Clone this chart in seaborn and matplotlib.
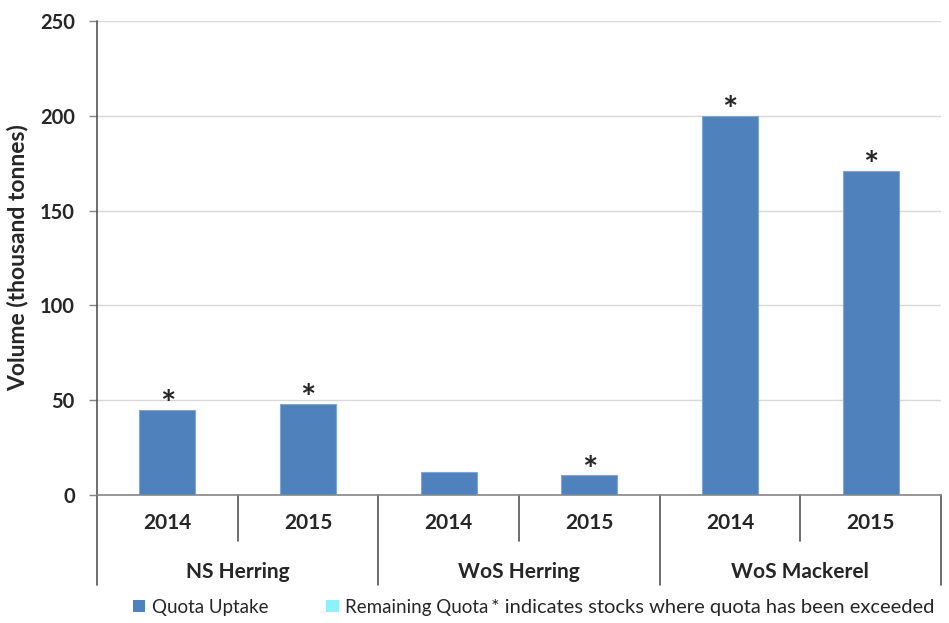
import matplotlib
matplotlib.use("Agg")
import matplotlib.pyplot as plt
import seaborn as sns
import pandas as pd
from matplotlib.patches import Patch
import matplotlib.transforms as mtransforms

stocks = ["NS Herring", "WoS Herring", "WoS Mackerel"]
years = ["2014", "2015"]
uptake = [45, 48, 12, 10.5, 200, 171]
remaining = [0, 0, 0, 0, 0, 0]
exceeded = [True, True, False, True, True, True]
yticks = [0, 50, 100, 150, 200, 250]

sns.set_style("white")
plt.rcParams['font.family'] = ['Lato', 'DejaVu Sans']

labels = [f"{s} {y}" for s in stocks for y in years]
df = pd.DataFrame({"slot": labels, "uptake": uptake, "remaining": remaining})
df["total"] = df["uptake"] + df["remaining"]

W, H = 949, 623
fig = plt.figure(figsize=(W / 100, H / 100), dpi=100)
ax = fig.add_axes([97 / W, 1 - 495 / H, (941 - 97) / W, (495 - 21) / H])

blue = "#4F81BD"
cyan = "#8DF0FF"
sns.barplot(data=df, x="slot", y="total", order=labels, color=cyan, width=0.4,
            ax=ax, edgecolor="none", saturation=1)
sns.barplot(data=df, x="slot", y="uptake", order=labels, color=blue, width=0.4,
            ax=ax, edgecolor="#7FA6D6", linewidth=0.8, saturation=1)

ax.set_xlim(-0.5, 5.5)
ax.set_ylim(0, 250)
ax.set_yticks(yticks)
ax.set_yticklabels([str(t) for t in yticks], fontsize=14.5, fontweight="bold")
ax.yaxis.grid(True, color="#D9D9D9", linewidth=1)
ax.set_axisbelow(True)
ax.set_xticks([])
ax.set_xlabel("")
ax.set_ylabel("Volume (thousand tonnes)", fontsize=16.5, fontweight="bold", labelpad=8)
ax.tick_params(axis="y", direction="out", length=6, width=1, color="#868686", left=True, pad=10)
for s in ["top", "right", "left"]:
    ax.spines[s].set_visible(False)
ax.spines["bottom"].set_color("#868686")
ax.spines["bottom"].set_linewidth(1.2)

# extended axis lines and category separators
trans = mtransforms.blended_transform_factory(ax.transData, ax.transAxes)
axcol = "#555555"
ax.plot([-0.5, -0.5], [-0.19, 1.0], transform=trans, color=axcol, lw=1.2, clip_on=False)
for xg in [1.5, 3.5, 5.5]:
    ax.plot([xg, xg], [-0.19, 0], transform=trans, color=axcol, lw=1.2, clip_on=False)
for xs in [0.5, 2.5, 4.5]:
    ax.plot([xs, xs], [-0.097, 0], transform=trans, color=axcol, lw=1.2, clip_on=False)

for i, lab in enumerate(labels):
    ax.text(i, -0.059, lab.split()[-1], transform=trans, ha="center", va="center",
            fontsize=15, fontweight="bold")
for j, s in enumerate(stocks):
    ax.text(2 * j + 0.5, -0.162, s, transform=trans, ha="center", va="center",
            fontsize=15, fontweight="bold")

for i, (v, e) in enumerate(zip(uptake, exceeded)):
    if e:
        ax.annotate("*", (i, v), xytext=(0, -9), textcoords="offset points",
                    ha="center", va="bottom", fontsize=26, fontweight="bold")

handles = [Patch(facecolor=blue, edgecolor="none", label="Quota Uptake"),
           Patch(facecolor=cyan, edgecolor="none", label="Remaining Quota")]
fig.legend(handles=handles, loc="center left", bbox_to_anchor=(133 / W, 1 - 607 / H),
           ncol=2, frameon=False, fontsize=13.5, handlelength=0.65, handleheight=0.65,
           handletextpad=0.35, columnspacing=3.1, borderpad=0, borderaxespad=0)
fig.text(491 / W, 1 - 607 / H, "* indicates stocks where quota has been exceeded",
         ha="left", va="center", fontsize=14.5)

fig.savefig("out.png", dpi=100)
